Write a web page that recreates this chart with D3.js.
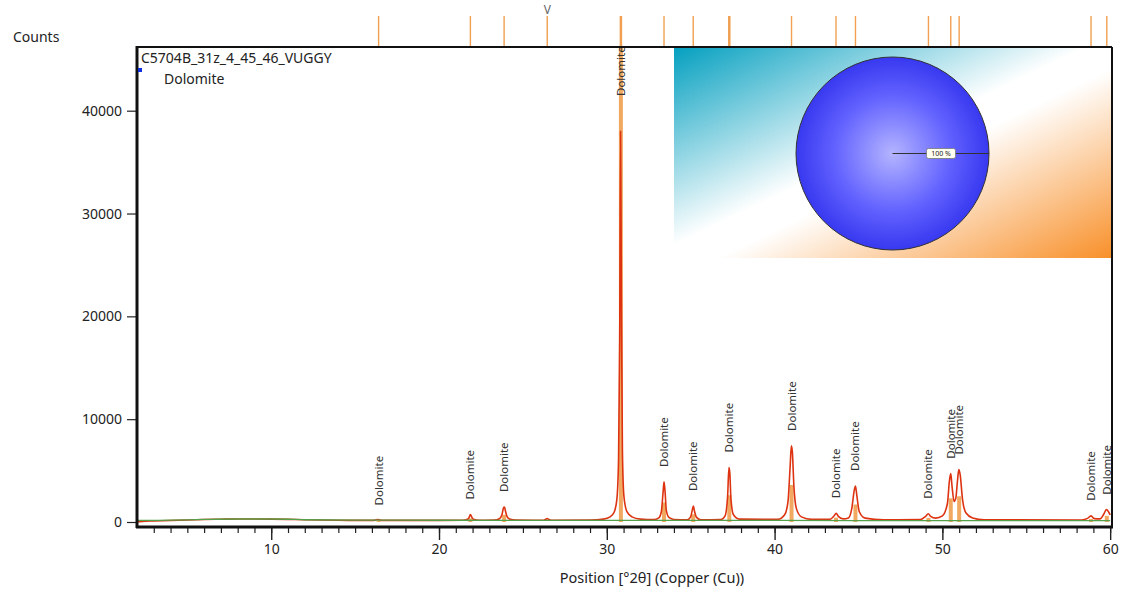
<!DOCTYPE html>
<html><head><meta charset="utf-8">
<script src="https://cdn.jsdelivr.net/npm/d3@7"></script>
<style>
html,body{margin:0;padding:0;background:#fff;}
text{font-family:"Noto Sans","Open Sans",sans-serif;}
</style></head>
<body><svg id="c" width="1136" height="590"></svg>
<script>
// ---- data ----
const sampleName = "C5704B_31z_4_45_46_VUGGY";
const phaseName = "Dolomite";
const xTicksMajor = [10, 20, 30, 40, 50, 60];
const yTicks = [0, 10000, 20000, 30000, 40000];
// reference (phase) line positions, °2θ
const peakPos    = [16.4, 21.87, 23.88, 30.84, 33.41, 35.15, 37.3, 41.01, 43.66, 44.82, 49.17, 50.5, 51.0, 58.86, 59.8];
// peak heights (counts) used for label placement
const peakCounts = [150, 720, 1450, 38000, 3900, 1550, 5300, 7400, 850, 3500, 800, 4700, 5100, 600, 1200];
// stick heights (counts)
const stickCounts = [120, 350, 700, 46200, 1900, 750, 2600, 3600, 420, 1700, 400, 2300, 2500, 300, 600];
// top marker positions
const topMarks = [16.4, 21.87, 23.88, 26.45, 30.84, 33.41, 35.15, 37.3, 41.01, 43.66, 44.82, 49.17, 50.5, 51.0, 58.86, 59.8];
const topMarkStrong = [30.84, 37.3];
const unknownMark = 26.45;
// observed profile [°2θ, counts]
const observed = [
 [2.0,20],[2.3,60],[3,100],[4,140],[5,200],[6,240],[7,270],[8,290],[9,290],[10,280],[11,260],[12,220],[13,190],[14,170],[15,160],[16,160],
 [16.2,180],[16.35,240],[16.5,180],[16.7,160],[18,160],[20,160],[21.4,170],[21.7,260],[21.8,450],[21.87,720],[21.96,450],[22.05,260],[22.4,170],
 [23.3,180],[23.6,320],[23.75,700],[23.84,1350],[23.9,1450],[23.97,1000],[24.05,550],[24.2,300],[24.6,190],
 [26.2,170],[26.35,260],[26.45,330],[26.55,240],[26.7,170],[29,190],[29.8,280],[30.2,500],[30.45,1000],[30.6,2200],[30.7,6000],[30.77,18000],
 [30.82,38000],[30.87,22000],[30.93,7000],[31.02,2500],[31.2,1000],[31.5,500],[32,280],[32.8,230],[33.1,400],[33.25,1000],[33.35,2800],[33.41,3900],
 [33.47,3000],[33.55,1100],[33.7,450],[34,250],[34.8,220],[35.0,500],[35.1,1200],[35.16,1550],[35.22,1100],[35.35,450],[35.6,220],
 [36.8,240],[37.05,600],[37.2,2500],[37.28,5300],[37.33,4800],[37.4,2200],[37.55,700],[37.9,280],[40.2,260],[40.6,700],[40.8,2000],[40.93,5500],
 [41.0,7400],[41.06,6800],[41.15,3500],[41.3,1300],[41.6,500],[42.2,260],[43.3,260],[43.55,600],[43.67,850],[43.8,550],[44.1,300],[44.4,400],
 [44.6,1300],[44.75,3100],[44.82,3500],[44.9,2600],[45.05,1000],[45.4,380],[46.5,220],[48.7,250],[49.0,550],[49.16,800],[49.3,550],[49.6,380],
 [50.0,600],[50.3,1800],[50.42,4000],[50.5,4700],[50.58,3400],[50.7,2000],[50.8,2300],[50.9,4000],[50.98,5100],[51.06,4600],[51.2,2200],[51.4,900],
 [51.8,400],[52.5,220],[58.3,200],[58.65,350],[58.86,600],[59.05,330],[59.4,300],[59.6,700],[59.78,1200],[59.9,1000],[60.0,700]
];
// background [°2θ, counts]
const background = [[2,150],[4,180],[6,250],[8,290],[10,290],[11,270],[12,220],[15,180],[20,170],[25,160],[30,160],[35,150],[40,150],[45,140],[50,140],[55,130],[60,130]];
const pieShares = [100];

// ---- layout ----
const svg = d3.select("#c");
const L = 137, R = 1111, T = 47, B = 527;
const x = d3.scaleLinear().domain([2, 60.05]).range([L, R]);
const y = d3.scaleLinear().domain([-486, 46194]).range([B, T]);

const defs = svg.append("defs");
defs.append("clipPath").attr("id","plotclip").append("rect").attr("x",L).attr("y",T).attr("width",R-L).attr("height",B-T);

// sticks
const gp = svg.append("g").attr("clip-path","url(#plotclip)");
gp.selectAll("rect.stick").data(peakPos).join("rect")
  .attr("x", d => x(d) - 2).attr("width", 4)
  .attr("y", (d,i) => y(stickCounts[i])).attr("height", (d,i) => y(0) - y(stickCounts[i]))
  .attr("fill", "#f0a050").attr("opacity", 0.9);

// observed line
gp.append("path").datum(observed)
  .attr("d", d3.line().x(d => x(d[0])).y(d => y(d[1])).curve(d3.curveMonotoneX))
  .attr("fill","none").attr("stroke","#dd3311").attr("stroke-width",1.6);
// background
gp.append("path").datum(background)
  .attr("d", d3.line().x(d => x(d[0])).y(d => y(d[1])).curve(d3.curveMonotoneX))
  .attr("fill","none").attr("stroke","#55a04a").attr("stroke-width",1.3);

// peak labels
svg.append("g").selectAll("text").data(peakPos).join("text")
  .attr("transform", (d,i) => {
     const top = Math.max(peakCounts[i], stickCounts[i]);
     return `translate(${x(d)},${Math.max(y(top) - 15, T + 49)}) rotate(-90)`;
  })
  .attr("dy","0.35em").attr("text-anchor","start")
  .attr("font-size", 11.5).attr("fill","#333").text(phaseName);

// inset
const ix = 674, iy = T + 1, iw = R - ix, ih = 258 - iy;
const lg = defs.append("linearGradient").attr("id","bg").attr("x1",0).attr("y1",0).attr("x2",1).attr("y2",1);
lg.append("stop").attr("offset","0").attr("stop-color","#05a0c0");
lg.append("stop").attr("offset","0.47").attr("stop-color","#ffffff");
lg.append("stop").attr("offset","0.55").attr("stop-color","#ffffff");
lg.append("stop").attr("offset","1").attr("stop-color","#f8902a");
svg.append("rect").attr("x",ix).attr("y",iy).attr("width",iw).attr("height",ih).attr("fill","url(#bg)");
const rg = defs.append("radialGradient").attr("id","pg").attr("cx","0.5").attr("cy","0.5").attr("r","0.5");
rg.append("stop").attr("offset","0").attr("stop-color","#b4b4ff");
rg.append("stop").attr("offset","0.6").attr("stop-color","#6262ff");
rg.append("stop").attr("offset","1").attr("stop-color","#3838f0");
const cx0 = 892.5, cy0 = 153.5, rr = 96.5;
const pie = d3.pie().sort(null)(pieShares);
const arc = d3.arc().innerRadius(0).outerRadius(rr);
const pg = svg.append("g").attr("transform",`translate(${cx0},${cy0})`);
pg.selectAll("path").data(pie).join("path").attr("d", arc)
  .attr("fill","url(#pg)").attr("stroke","#333").attr("stroke-width",1);
pg.append("line").attr("x1",0).attr("y1",0).attr("x2",rr).attr("y2",0).attr("stroke","#333").attr("stroke-width",1);
pg.append("rect").attr("x",34).attr("y",-5).attr("width",29).attr("height",10).attr("rx",2)
  .attr("fill","#fffff2").attr("stroke","#777").attr("stroke-width",0.8);
pg.append("text").attr("x",48.5).attr("y",0).attr("dy","0.35em").attr("text-anchor","middle")
  .attr("font-size",7).attr("fill","#222").text(pieShares[0] + " %");

// top marks
svg.append("g").selectAll("line").data(topMarks).join("line")
  .attr("x1", d => x(d)).attr("x2", d => x(d)).attr("y1", 16).attr("y2", T)
  .attr("stroke","#f0a050").attr("stroke-width", d => topMarkStrong.includes(d) ? 2.5 : 1.4);
svg.append("text").attr("x", x(unknownMark)).attr("y", 14).attr("text-anchor","middle")
  .attr("font-size",12).attr("fill","#666").text("V");

// frame
svg.append("line").attr("x1",L).attr("x2",R+1).attr("y1",T).attr("y2",T).attr("stroke","#111").attr("stroke-width",2);
svg.append("line").attr("x1",R+1).attr("x2",R+1).attr("y1",T).attr("y2",B).attr("stroke","#111").attr("stroke-width",2);

// axes
const xAxis = d3.axisBottom(x).tickValues(d3.range(3, 61, 1)).tickSize(6).tickFormat("");
const gx = svg.append("g").attr("transform",`translate(0,${B})`).call(xAxis);
gx.select(".domain").remove();
gx.selectAll("line").attr("stroke","#222").attr("stroke-width",1.2);
const gxm = svg.append("g").attr("transform",`translate(0,${B})`)
  .call(d3.axisBottom(x).tickValues(xTicksMajor).tickSize(13).tickPadding(4).tickFormat(d3.format("d")));
gxm.select(".domain").remove();
gxm.selectAll("line").attr("stroke","#222").attr("stroke-width",1.4);
gxm.selectAll("text").attr("font-size",14).attr("fill","#222");
svg.append("line").attr("x1",L-1).attr("x2",R+2).attr("y1",B).attr("y2",B).attr("stroke","#111").attr("stroke-width",3);

const gy = svg.append("g").attr("transform",`translate(${L},0)`)
  .call(d3.axisLeft(y).tickValues(yTicks).tickSize(10).tickPadding(5).tickFormat(d3.format("d")));
gy.select(".domain").remove();
gy.selectAll("line").attr("stroke","#222").attr("stroke-width",1.2);
gy.selectAll("text").attr("font-size",14).attr("fill","#222");
svg.append("line").attr("x1",L).attr("x2",L).attr("y1",T-1).attr("y2",B+1).attr("stroke","#111").attr("stroke-width",3);

// titles
svg.append("text").attr("x",13).attr("y",42).attr("font-size",14).attr("fill","#222").text("Counts");
svg.append("text").attr("x",652).attr("y",583).attr("text-anchor","middle").attr("font-size",14.5).attr("fill","#222")
  .text("Position [°2θ] (Copper (Cu))");

// legend
svg.append("text").attr("x",141).attr("y",63).attr("font-size",14).attr("fill","#222").text(sampleName);
svg.append("rect").attr("x",138).attr("y",68).attr("width",4).attr("height",4).attr("fill","#1030e0");
svg.append("text").attr("x",164).attr("y",84).attr("font-size",14).attr("fill","#222").text(phaseName);
</script></body></html>
